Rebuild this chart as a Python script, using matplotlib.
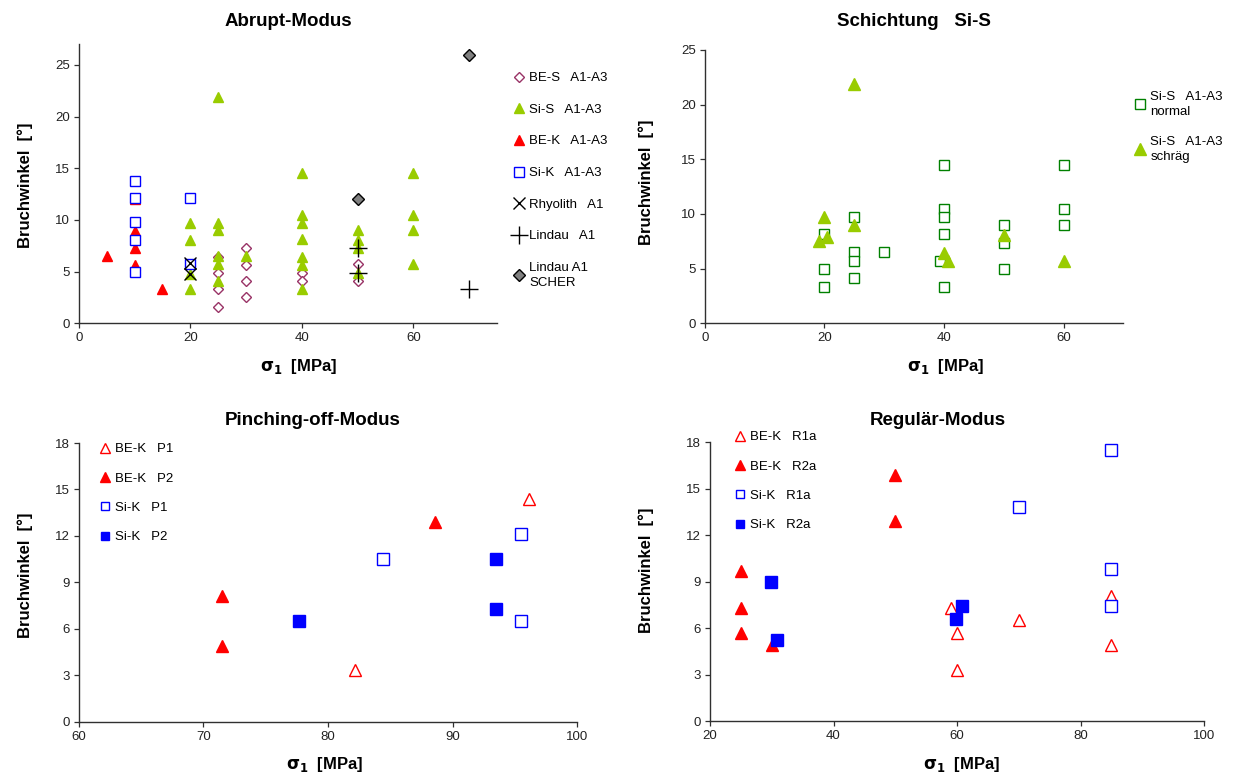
import numpy as np
import matplotlib
matplotlib.use("Agg")
import matplotlib.pyplot as plt

plt.rcParams['font.family'] = ['Liberation Sans', 'DejaVu Sans']
plt.rcParams['mathtext.fontset'] = 'dejavusans'

# Abrupt-Modus
bes_x = [25, 25, 25, 25, 30, 30, 30, 30, 40, 40, 50, 50]
bes_y = [6.4, 4.9, 3.3, 1.6, 7.3, 5.6, 4.1, 2.5, 4.9, 4.1, 5.7, 4.1]
sis_x = [20, 20, 20, 20, 25, 25, 25, 25, 25, 25, 30,
         40, 40, 40, 40, 40, 40, 40, 50, 50, 50, 50, 60, 60, 60, 60]
sis_y = [9.7, 8.1, 4.8, 3.3, 21.9, 9.7, 9.0, 6.5, 5.7, 4.1, 6.5,
         14.5, 10.5, 9.7, 8.2, 6.4, 5.6, 3.3, 9.0, 8.1, 7.3, 4.9, 14.5, 10.5, 9.0, 5.7]
bek_x = [5, 10, 10, 10, 10, 15]
bek_y = [6.5, 12.0, 8.9, 7.3, 5.6, 3.3]
sik_x = [10, 10, 10, 10, 10, 20, 20]
sik_y = [13.8, 12.1, 9.8, 8.1, 5.0, 12.1, 5.7]
rhy_x = [20, 20]
rhy_y = [5.8, 4.8]
lin_x = [50, 50, 70]
lin_y = [7.3, 4.9, 3.3]
sch_x = [50, 70]
sch_y = [12.0, 26.0]

# Schichtung Si-S
norm_x = [20, 20, 20, 25, 25, 25, 25, 30, 40, 40, 40, 40, 39.4, 40, 50, 50, 50, 60, 60, 60]
norm_y = [3.3, 5.0, 8.2, 9.7, 6.5, 5.7, 4.1, 6.5, 14.5, 10.5, 9.7, 8.2, 5.7, 3.3, 9.0, 7.3, 5.0, 14.5, 10.5, 9.0]
schr_x = [20, 19.1, 20.5, 25, 25, 40, 40.7, 50, 60]
schr_y = [9.7, 7.5, 7.9, 21.9, 9.0, 6.4, 5.7, 8.1, 5.7]

# Pinching-off-Modus
p_bek1_x = [82.2, 96.1]
p_bek1_y = [3.3, 14.4]
p_bek2_x = [71.5, 71.5, 88.6]
p_bek2_y = [8.1, 4.9, 12.9]
p_sik1_x = [84.4, 95.5, 95.5]
p_sik1_y = [10.5, 12.1, 6.5]
p_sik2_x = [77.7, 93.5, 93.5]
p_sik2_y = [6.5, 10.5, 7.3]

# Regulaer-Modus
r_bek1_x = [59, 60, 60, 70, 85, 85]
r_bek1_y = [7.3, 5.7, 3.3, 6.5, 8.1, 4.9]
r_bek2_x = [25, 25, 25, 30, 50, 50]
r_bek2_y = [9.7, 7.3, 5.7, 4.9, 15.9, 12.9]
r_sik1_x = [85, 70, 85, 85]
r_sik1_y = [17.5, 13.8, 9.8, 7.4]
r_sik2_x = [29.8, 30.8, 59.8, 60.8]
r_sik2_y = [9.0, 5.2, 6.6, 7.4]

W, H = 1234, 776
fig = plt.figure(figsize=(W / 100, H / 100), dpi=100)


def fx(px):
    return px / W


def fy(py):
    return 1 - py / H


def make_axes(left, right, top, bottom):
    ax = fig.add_axes([fx(left), fy(bottom), (right - left) / W, (bottom - top) / H])
    for s in ['top', 'right']:
        ax.spines[s].set_visible(False)
    for s in ['left', 'bottom']:
        ax.spines[s].set_color('#303030')
        ax.spines[s].set_linewidth(1.0)
    ax.tick_params(direction='out', length=3.5, width=0.9, colors='#303030',
                   labelsize=9.5, labelcolor='#222222', pad=3)
    return ax


def add_legend(ax, left, top, spacing, scale=1.0):
    leg = ax.legend(loc='upper left', bbox_to_anchor=(fx(left), fy(top)),
                    bbox_transform=fig.transFigure, frameon=False, fontsize=9.5,
                    handlelength=0.8, handletextpad=0.35, labelspacing=spacing,
                    borderpad=0, borderaxespad=0, markerscale=scale)
    for t in leg.get_texts():
        t.set_linespacing(1.35)
    return leg


ylab = 'Bruchwinkel  [°]'
xlab = r'$\mathbf{\sigma_1}$  [MPa]'

GREEN = '#99cc00'
RED = '#ff0000'
BLUE = '#0000ff'
PURPLE = '#993366'

# ---- Abrupt-Modus ----
ax1 = make_axes(78.8, 496.9, 44.3, 323.3)
ax1.plot(bes_x, bes_y, ls='none', marker='D', ms=5.5, mfc='white', mec=PURPLE, mew=1.0, label='BE-S   A1-A3')
ax1.plot(sis_x, sis_y, ls='none', marker='^', ms=7.5, color=GREEN, mec=GREEN, label='Si-S   A1-A3')
ax1.plot(bek_x, bek_y, ls='none', marker='^', ms=7.5, color=RED, mec=RED, label='BE-K   A1-A3')
ax1.plot(sik_x, sik_y, ls='none', marker='s', ms=6.5, mfc='white', mec=BLUE, mew=1.0, label='Si-K   A1-A3')
ax1.plot(rhy_x, rhy_y, ls='none', marker='x', ms=9, color='black', mew=1.0, label='Rhyolith   A1')
ax1.plot(lin_x, lin_y, ls='none', marker='+', ms=13, color='black', mew=1.0, label='Lindau   A1')
ax1.plot(sch_x, sch_y, ls='none', marker='D', ms=6, mfc='#808080', mec='black', mew=1.0, label='Lindau A1\nSCHER')
ax1.set_xlim(0, 75)
ax1.set_ylim(0, 27)
ax1.set_xticks([0, 20, 40, 60])
ax1.set_yticks([0, 5, 10, 15, 20, 25])
add_legend(ax1, 514, 72, 1.47)

# ---- Schichtung Si-S ----
ax2 = make_axes(704.8, 1123.3, 50.0, 323.3)
ax2.plot(norm_x, norm_y, ls='none', marker='s', ms=6.5, mfc='white', mec='#008000', mew=1.0,
         label='Si-S   A1-A3\nnormal')
ax2.plot(schr_x, schr_y, ls='none', marker='^', ms=9, color=GREEN, mec=GREEN,
         label='Si-S   A1-A3\nschräg')
ax2.set_xlim(0, 70)
ax2.set_ylim(0, 25)
ax2.set_xticks([0, 20, 40, 60])
ax2.set_yticks([0, 5, 10, 15, 20, 25])
add_legend(ax2, 1135, 91, 1.33)

# ---- Pinching-off-Modus ----
ax3 = make_axes(78.6, 577.3, 443.0, 721.5)
ax3.plot(p_bek1_x, p_bek1_y, ls='none', marker='^', ms=9, mfc='white', mec=RED, mew=1.0, label='BE-K   P1')
ax3.plot(p_bek2_x, p_bek2_y, ls='none', marker='^', ms=9, color=RED, mec=RED, label='BE-K   P2')
ax3.plot(p_sik1_x, p_sik1_y, ls='none', marker='s', ms=8, mfc='white', mec=BLUE, mew=1.0, label='Si-K   P1')
ax3.plot(p_sik2_x, p_sik2_y, ls='none', marker='s', ms=8, color=BLUE, mec=BLUE, label='Si-K   P2')
ax3.set_xlim(60, 100)
ax3.set_ylim(0, 18)
ax3.set_xticks([60, 70, 80, 90, 100])
ax3.set_yticks([0, 3, 6, 9, 12, 15, 18])
add_legend(ax3, 100, 443, 1.3, scale=0.75)

# ---- Regulär-Modus ----
ax4 = make_axes(710.0, 1204.0, 442.3, 721.0)
ax4.plot(r_bek1_x, r_bek1_y, ls='none', marker='^', ms=9, mfc='white', mec=RED, mew=1.0, label='BE-K   R1a')
ax4.plot(r_bek2_x, r_bek2_y, ls='none', marker='^', ms=9, color=RED, mec=RED, label='BE-K   R2a')
ax4.plot(r_sik1_x, r_sik1_y, ls='none', marker='s', ms=8, mfc='white', mec=BLUE, mew=1.0, label='Si-K   R1a')
ax4.plot(r_sik2_x, r_sik2_y, ls='none', marker='s', ms=8, color=BLUE, mec=BLUE, label='Si-K   R2a')
ax4.set_xlim(20, 100)
ax4.set_ylim(0, 18)
ax4.set_xticks([20, 40, 60, 80, 100])
ax4.set_yticks([0, 3, 6, 9, 12, 15, 18])
add_legend(ax4, 735, 431, 1.3, scale=0.75)

# titles and axis labels
title_kw = dict(fontsize=13.5, fontweight='bold', ha='center', va='center')
fig.text(fx(288), fy(22), 'Abrupt-Modus', **title_kw)
fig.text(fx(914), fy(22), 'Schichtung   Si-S', **title_kw)
fig.text(fx(313), fy(421), 'Pinching-off-Modus', **title_kw)
fig.text(fx(938), fy(421), 'Regulär-Modus', **title_kw)

lab_kw = dict(fontsize=12, fontweight='bold', ha='center', va='center')
fig.text(fx(299), fy(366), xlab, **lab_kw)
fig.text(fx(946), fy(367), xlab, **lab_kw)
fig.text(fx(325), fy(765), xlab, **lab_kw)
fig.text(fx(962), fy(765), xlab, **lab_kw)

fig.text(fx(25), fy(185), ylab, rotation=90, **lab_kw)
fig.text(fx(646), fy(182), ylab, rotation=90, **lab_kw)
fig.text(fx(25), fy(575), ylab, rotation=90, **lab_kw)
fig.text(fx(646), fy(570), ylab, rotation=90, **lab_kw)

fig.savefig('out.png', dpi=100)
